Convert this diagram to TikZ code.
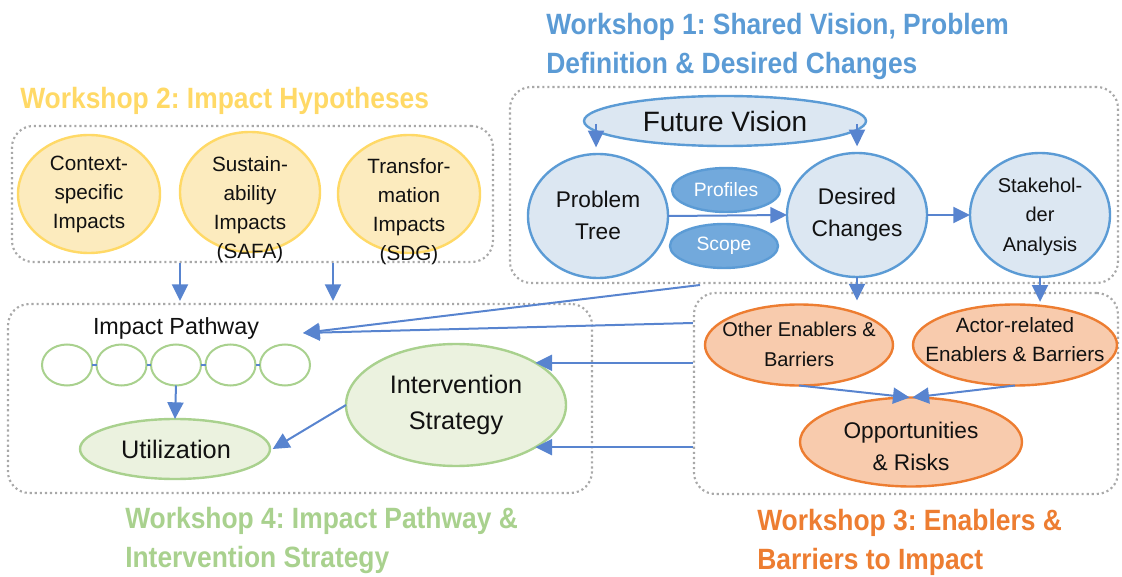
\documentclass[tikz,border=0pt]{standalone}
\usepackage{fontspec}
\setmainfont{Liberation Sans}
\newfontfamily\titlefont[FakeStretch=0.9]{Liberation Sans}
\usetikzlibrary{arrows.meta,shapes.geometric}
\definecolor{wblue}{HTML}{5B9BD5}
\definecolor{wyellow}{HTML}{FFD966}
\definecolor{wgreen}{HTML}{A9D18E}
\definecolor{worange}{HTML}{ED7D31}
\definecolor{bfill}{HTML}{DCE7F2}
\definecolor{bdark}{HTML}{72A9DC}
\definecolor{yfill}{HTML}{FCEBBE}
\definecolor{ofill}{HTML}{F8CBAD}
\definecolor{gfill}{HTML}{EBF2DF}
\definecolor{arrowblue}{HTML}{5884CF}
\definecolor{boxgray}{HTML}{A8A8A8}
\definecolor{txtc}{HTML}{111111}
\frenchspacing
\begin{document}
\begin{tikzpicture}[x=0.75pt,y=-0.75pt,
  wbox/.style={draw=boxgray, line width=1.6pt, dash pattern=on 1.6pt off 2.2pt, rounded corners=16pt, rectangle, inner sep=0pt},
  ell/.style={ellipse, inner sep=0pt, outer sep=0pt, line width=1.8pt},
  bell/.style={ell, draw=wblue, fill=bfill},
  dell/.style={ell, draw=wblue, fill=bdark},
  yell/.style={ell, draw=wyellow, fill=yfill},
  oell/.style={ell, draw=worange, fill=ofill},
  gell/.style={ell, draw=wgreen, fill=gfill},
  chain/.style={ell, draw=wgreen, fill=white, line width=1.5pt, minimum width=37.5pt, minimum height=30.75pt},
  txt/.style={align=center, inner sep=0pt, text=txtc},
  ttl/.style={anchor=west, align=left, inner sep=0pt, font=\titlefont\bfseries\fontsize{22}{29.25}\selectfont},
  arr/.style={draw=arrowblue, line width=1.5pt, -{Triangle[length=12.5pt,width=12pt]}},
  conn/.style={draw=arrowblue, line width=1.5pt}
]
\useasboundingbox (0,0) rectangle (1122,577);

% titles
\node[ttl, text=wblue] (t1) at (546,46.5) {Workshop 1: Shared Vision, Problem\\Definition \& Desired Changes};
\node[ttl, text=wyellow] (t2) at (20,101) {Workshop 2: Impact Hypotheses};
\node[ttl, text=wgreen] (t4) at (125,540.5) {Workshop 4: Impact Pathway \&\\Intervention Strategy};
\node[ttl, text=worange] (t3) at (757,542.5) {Workshop 3: Enablers \&\\Barriers to Impact};

% dotted boxes
\node[wbox, minimum width=456pt, minimum height=147pt] (w1box) at (814,185) {};
\node[wbox, minimum width=360.75pt, minimum height=102pt] (w2box) at (252.5,194) {};
\node[wbox, minimum width=438pt, minimum height=141.75pt] (w4box) at (300,398.5) {};
\node[wbox, minimum width=318pt, minimum height=150.75pt] (w3box) at (906,393.5) {};

% Workshop 2
\node[yell, minimum width=106.5pt, minimum height=88.5pt] (ctx) at (89,194) {};
\node[yell, minimum width=105pt, minimum height=90pt] (sus) at (250,192) {};
\node[yell, minimum width=106.5pt, minimum height=88.5pt] (tra) at (409,194) {};
\node[txt, font=\fontsize{15.5}{21.75}\selectfont] (ctxt) at (89,194) {Context-\\specific\\Impacts};
\node[txt, font=\fontsize{15.5}{21.75}\selectfont] (sust) at (250,209.5) {Sustain-\\ability\\Impacts\\(SAFA)};
\node[txt, font=\fontsize{15.5}{21.75}\selectfont] (trat) at (409,211.5) {Transfor-\\mation\\Impacts\\(SDG)};

% Workshop 1
\node[bell, minimum width=211.5pt, minimum height=37.5pt] (fv) at (725,121) {};
\node[txt, font=\fontsize{21}{25}\selectfont] (fvt) at (725,121) {Future Vision};
\node[bell, minimum width=105pt, minimum height=93pt] (pt) at (598,216) {};
\node[txt, font=\fontsize{17}{24}\selectfont] (ptt) at (598,215) {Problem\\Tree};
\node[dell, minimum width=81pt, minimum height=33pt] (prof) at (726,190) {};
\node[txt, text=white, font=\fontsize{14.5}{18}\selectfont] (proft) at (726,190) {Profiles};
\node[dell, minimum width=81pt, minimum height=33pt] (scope) at (724,246) {};
\node[txt, text=white, font=\fontsize{14.5}{18}\selectfont] (scopet) at (724,246) {Scope};
\node[bell, minimum width=105pt, minimum height=93pt] (dc) at (857,215) {};
\node[txt, font=\fontsize{17}{24}\selectfont] (dct) at (857,215) {Desired\\Changes};
\node[bell, minimum width=105pt, minimum height=93pt] (sa) at (1040,215) {};
\node[txt, font=\fontsize{15}{22}\selectfont] (sat) at (1040,216.5) {Stakehol-\\der\\Analysis};

\draw[arr, shorten >=5pt] (pt.north |- fv.center) ++(-2,3) -- ([xshift=-1.5pt]pt.north);
\draw[arr, shorten >=5pt] (dc.north |- fv.center) ++(0,3) -- (dc.north);
\draw[arr] (pt.east) -- (dc.west);
\draw[arr] (dc.east) -- (sa.west);

% Workshop 3
\node[oell, minimum width=141pt, minimum height=60.75pt] (oth) at (799,345) {};
\node[txt, font=\fontsize{15}{22}\selectfont] (otht) at (799,344.5) {Other Enablers \&\\Barriers};
\node[oell, minimum width=153pt, minimum height=60.75pt] (act) at (1015,345) {};
\node[txt, font=\fontsize{15.5}{22}\selectfont] (actt) at (1015,339.5) {Actor-related\\Enablers \& Barriers};
\node[oell, minimum width=166.5pt, minimum height=66.75pt] (opp) at (911,442) {};
\node[txt, font=\fontsize{17}{24}\selectfont] (oppt) at (911,446) {Opportunities\\\& Risks};

\draw[arr, shorten >=3pt] (dc.south) -- (dc.south |- oth.north);
\draw[arr, shorten >=2pt] (sa.south) -- (sa.south |- act.north);
\draw[arr] (oth.south) -- ([xshift=-1pt]opp.north);
\draw[arr] (act.south) -- ([xshift=1pt]opp.north);

% Workshop 4
\node[txt, font=\fontsize{17.5}{21}\selectfont] (ip) at (176,328) {Impact Pathway};
\node[chain] (c1) at (67,365) {};
\node[chain] (c2) at (121.5,365) {};
\node[chain] (c3) at (176,365) {};
\node[chain] (c4) at (230.5,365) {};
\node[chain] (c5) at (285,365) {};
\draw[conn] (c1.east) -- (c2.west);
\draw[conn] (c2.east) -- (c3.west);
\draw[conn] (c3.east) -- (c4.west);
\draw[conn] (c4.east) -- (c5.west);
\node[gell, minimum width=142.5pt, minimum height=45pt] (ut) at (175,449) {};
\node[txt, font=\fontsize{19}{24}\selectfont] (utt) at (176,449) {Utilization};
\node[gell, minimum width=165pt, minimum height=91.5pt] (is) at (456,405) {};
\node[txt, font=\fontsize{19}{27}\selectfont] (ist) at (456,405) {Intervention\\Strategy};

\draw[arr] (c3.south) -- (ut.north);
\draw[arr] (is.west) -- ([xshift=2pt]ut.east);

% Workshop 2 -> Workshop 4
\draw[arr, shorten >=1.5pt] (w2box.south -| 180,0) -- (w4box.north -| 180,0);
\draw[arr, shorten >=1.5pt] (w2box.south -| 333,0) -- (w4box.north -| 333,0);

% Workshop 3 -> Workshop 4
\coordinate (d1) at (700,285);
\coordinate (iptip) at (303,333);
\draw[arr] (d1) -- (iptip);
\draw[arr] (w3box.west |- 0,323) -- (iptip);
\draw[arr] (is.28 -| w3box.west) -- (is.28);
\draw[arr] (is.-28 -| w3box.west) -- (is.-28);
\end{tikzpicture}
\end{document}
